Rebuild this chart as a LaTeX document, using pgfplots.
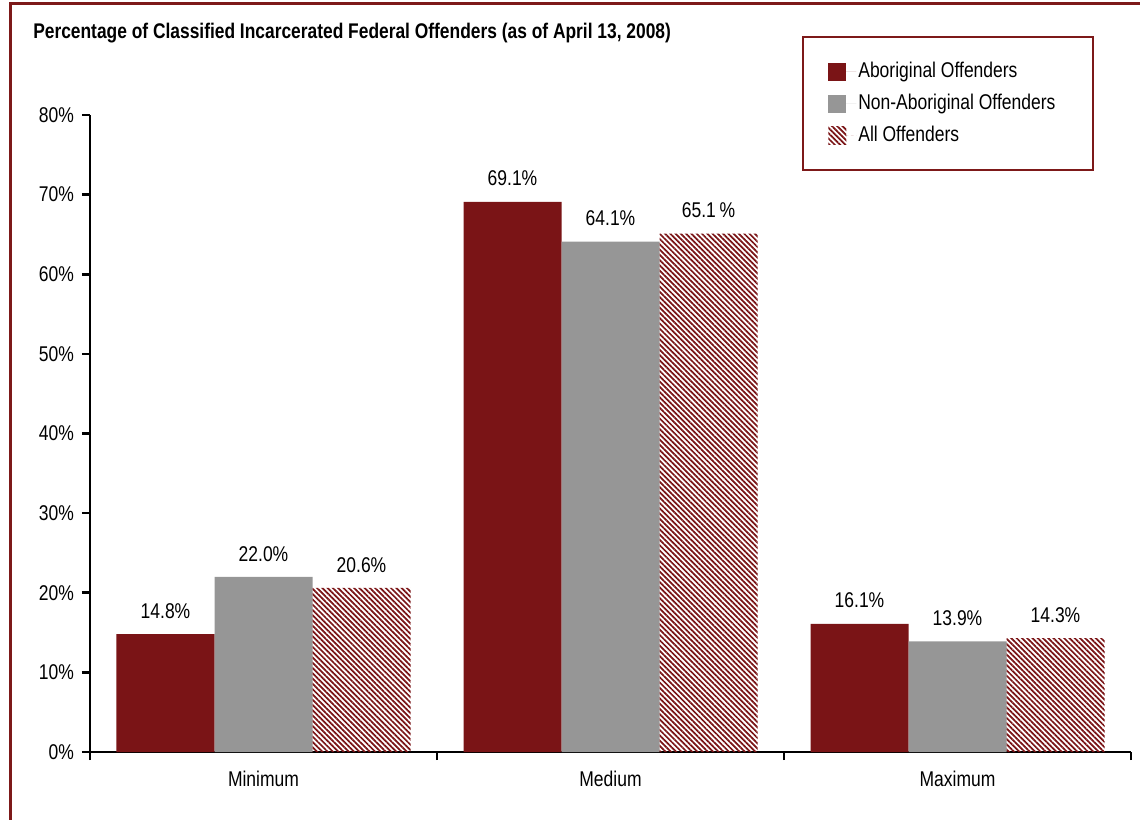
\documentclass[border=0pt]{standalone}
\usepackage{pgfplots}
\pgfplotsset{compat=1.18}
\usepackage{fontspec}
\setmainfont{Liberation Sans}[FakeStretch=0.82]
\usetikzlibrary{patterns.meta}
\definecolor{abo}{RGB}{122,20,22}
\definecolor{nab}{RGB}{150,150,150}
\definecolor{framec}{RGB}{125,25,25}
\begin{document}
\begin{tikzpicture}[font=\fontsize{16}{19}\selectfont]
\useasboundingbox (0,0) rectangle (855pt,-615pt);
\draw[framec, line width=2.25pt] (7.5pt,-620pt) -- (7.5pt,-3pt) -- (860pt,-3pt);
\draw[framec, line width=1.5pt] (602.25pt,-27.75pt) rectangle (819.75pt,-127.5pt);
\node[anchor=west, font=\fontsize{15.9}{18}\selectfont\bfseries, inner sep=0pt] at (24.75pt,-24.75pt) {Percentage of Classified Incarcerated Federal Offenders (as of April 13, 2008)};
\begin{axis}[
  at={(67.5pt,-564pt)}, anchor=south west,
  scale only axis, width=780.75pt, height=477.75pt,
  xmin=-0.5, xmax=2.5, ymin=0, ymax=80,
  axis x line=bottom, axis y line=left,
  axis line style={-, line width=2pt, black},
  ybar=0pt, bar width=73.5pt,
  tick align=outside, major tick length=6pt,
  tick style={line width=2pt, black},
  ytick={0,10,...,80},
  yticklabel={\pgfmathprintnumber{\tick}\%},
  yticklabel style={xshift=-2.5pt},
  /pgf/number format/assume math mode=true,
  xtick={-0.5,0.5,1.5,2.5}, xticklabels={},
  extra x ticks={0,1,2},
  extra x tick labels={Minimum,Medium,Maximum},
  extra x tick style={major tick length=0pt, xticklabel style={yshift=-11pt}},
  point meta=explicit symbolic,
  nodes near coords,
  every node near coord/.append style={inner sep=0pt, yshift=11.5pt, black},
  legend image code/.code={\path[#1,draw=none] (0pt,-6.75pt) rectangle (13.5pt,6.75pt); \path (0pt,0pt) -- (21pt,0pt);},
  legend cell align=left,
  legend style={draw=none, fill=none, at={(0.709,1.0848)}, anchor=north west, inner sep=0pt,
    row sep=8pt, nodes={inner sep=1.5pt, text height=10.5pt, text depth=2.5pt}},
]
\addplot[fill=abo, draw=none] coordinates {(0,14.8) [14.8\%] (1,69.1) [69.1\%] (2,16.1) [16.1\%]};
\addplot[fill=nab, draw=none] coordinates {(0,22.0) [22.0\%] (1,64.1) [64.1\%] (2,13.9) [13.9\%]};
\addplot[draw=none, pattern={Lines[angle=-45, distance=2.8pt, line width=1.3pt]}, pattern color=abo] coordinates {(0,20.6) [20.6\%] (1,65.1) [65.1\,\%] (2,14.3) [14.3\%]};
\legend{Aboriginal Offenders, Non-Aboriginal Offenders, All Offenders}
\end{axis}
\end{tikzpicture}
\end{document}
